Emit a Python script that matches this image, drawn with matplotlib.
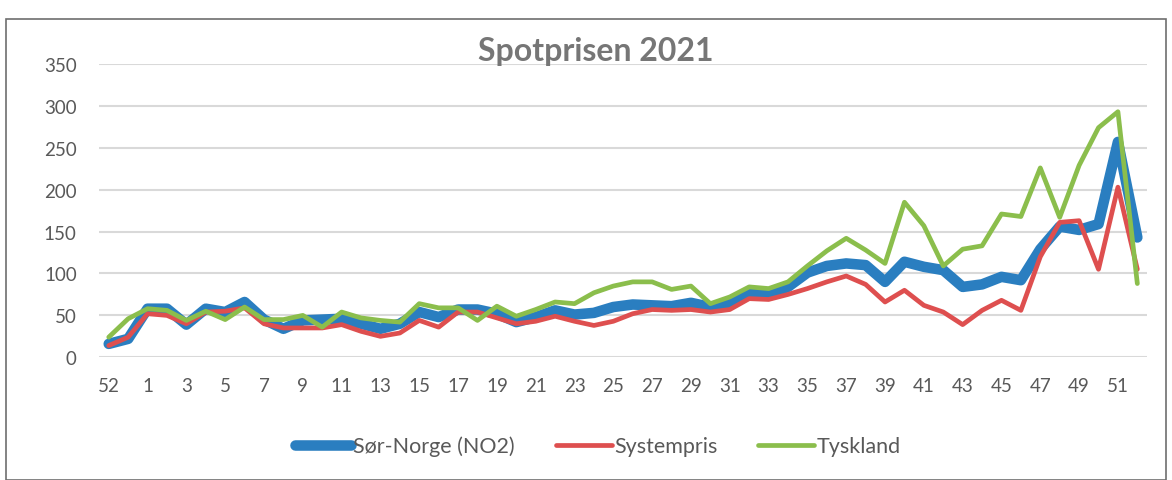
import matplotlib
matplotlib.use('Agg')
import matplotlib.pyplot as plt
from matplotlib.patches import Rectangle

# uke 52/53 fra 2020, deretter uke 1-52 i 2021
weeks = [52, 53] + list(range(1, 53))

no2 = [16, 22, 58, 58, 39, 58, 54, 66, 45, 34,
       44, 45, 46, 40, 34, 40, 54, 48, 57, 57,
       52, 42, 48, 56, 51, 53, 60, 63, 62, 61,
       65, 60, 64, 76, 74, 84, 101, 109, 112, 110,
       90, 114, 108, 104, 84, 87, 96, 92, 129, 156,
       152, 159, 257, 143]

systempris = [14, 24, 52, 50, 40, 54, 55, 59, 40, 35,
              35, 35, 39, 31, 25, 29, 44, 36, 54, 54,
              47, 40, 43, 49, 43, 38, 43, 52, 57, 56,
              57, 54, 57, 70, 69, 75, 82, 90, 97, 87,
              66, 80, 62, 54, 39, 56, 68, 56, 120, 161,
              163, 105, 203, 105]

tyskland = [24, 46, 58, 56, 44, 55, 45, 60, 45, 45,
            50, 36, 54, 47, 44, 42, 64, 59, 59, 44,
            61, 49, 57, 66, 64, 77, 85, 90, 90, 81,
            85, 64, 72, 84, 82, 90, 109, 127, 142, 128,
            112, 185, 157, 109, 129, 133, 171, 168, 226, 167,
            229, 274, 293, 88]

yticks = [0, 50, 100, 150, 200, 250, 300, 350]

plt.rcParams['font.family'] = ['Lato', 'DejaVu Sans']
grey = '#595959'

fig = plt.figure(figsize=(11.72, 4.81), dpi=100)
ax = fig.add_axes([0.0845, 0.2551, 0.8942, 0.6098])

x = list(range(len(weeks)))
ax.plot(x, no2, color='#2A7EC0', lw=7.6, label='Sør-Norge (NO2)', solid_capstyle='round', solid_joinstyle='round', zorder=2)
ax.plot(x, systempris, color='#DE4F4F', lw=3.4, label='Systempris', solid_capstyle='round', solid_joinstyle='round', zorder=3)
ax.plot(x, tyskland, color='#8BBE4C', lw=3.4, label='Tyskland', solid_capstyle='round', solid_joinstyle='round', zorder=4)

ax.set_xlim(-0.5, len(weeks) - 0.5)
ax.set_ylim(0, 350)
ax.set_yticks(yticks)
ax.set_xticks(x[::2])
ax.set_xticklabels([str(w) for w in weeks[::2]])
ax.grid(axis='y', color='#D9D9D9', lw=1.5)
ax.set_axisbelow(True)
for s in ax.spines.values():
    s.set_visible(False)
ax.tick_params(axis='both', length=0, labelsize=13.5, colors=grey)
ax.tick_params(axis='x', pad=14)
ax.tick_params(axis='y', pad=16)

fig.text(0.508, 0.892, 'Spotprisen 2021', ha='center', va='center',
         fontsize=23, fontweight='bold', color='#767676')

fig.legend(loc='center', bbox_to_anchor=(0.51, 0.071), ncol=3, frameon=False,
           fontsize=15.5, labelcolor=grey, handlelength=2.6, handletextpad=0.1,
           columnspacing=1.9)

fig.patches.append(Rectangle((0.005, 0.0), 0.99, 0.958, transform=fig.transFigure,
                             fill=False, edgecolor='#6E6E6E', lw=1.2))

fig.savefig('out.png', dpi=100)
